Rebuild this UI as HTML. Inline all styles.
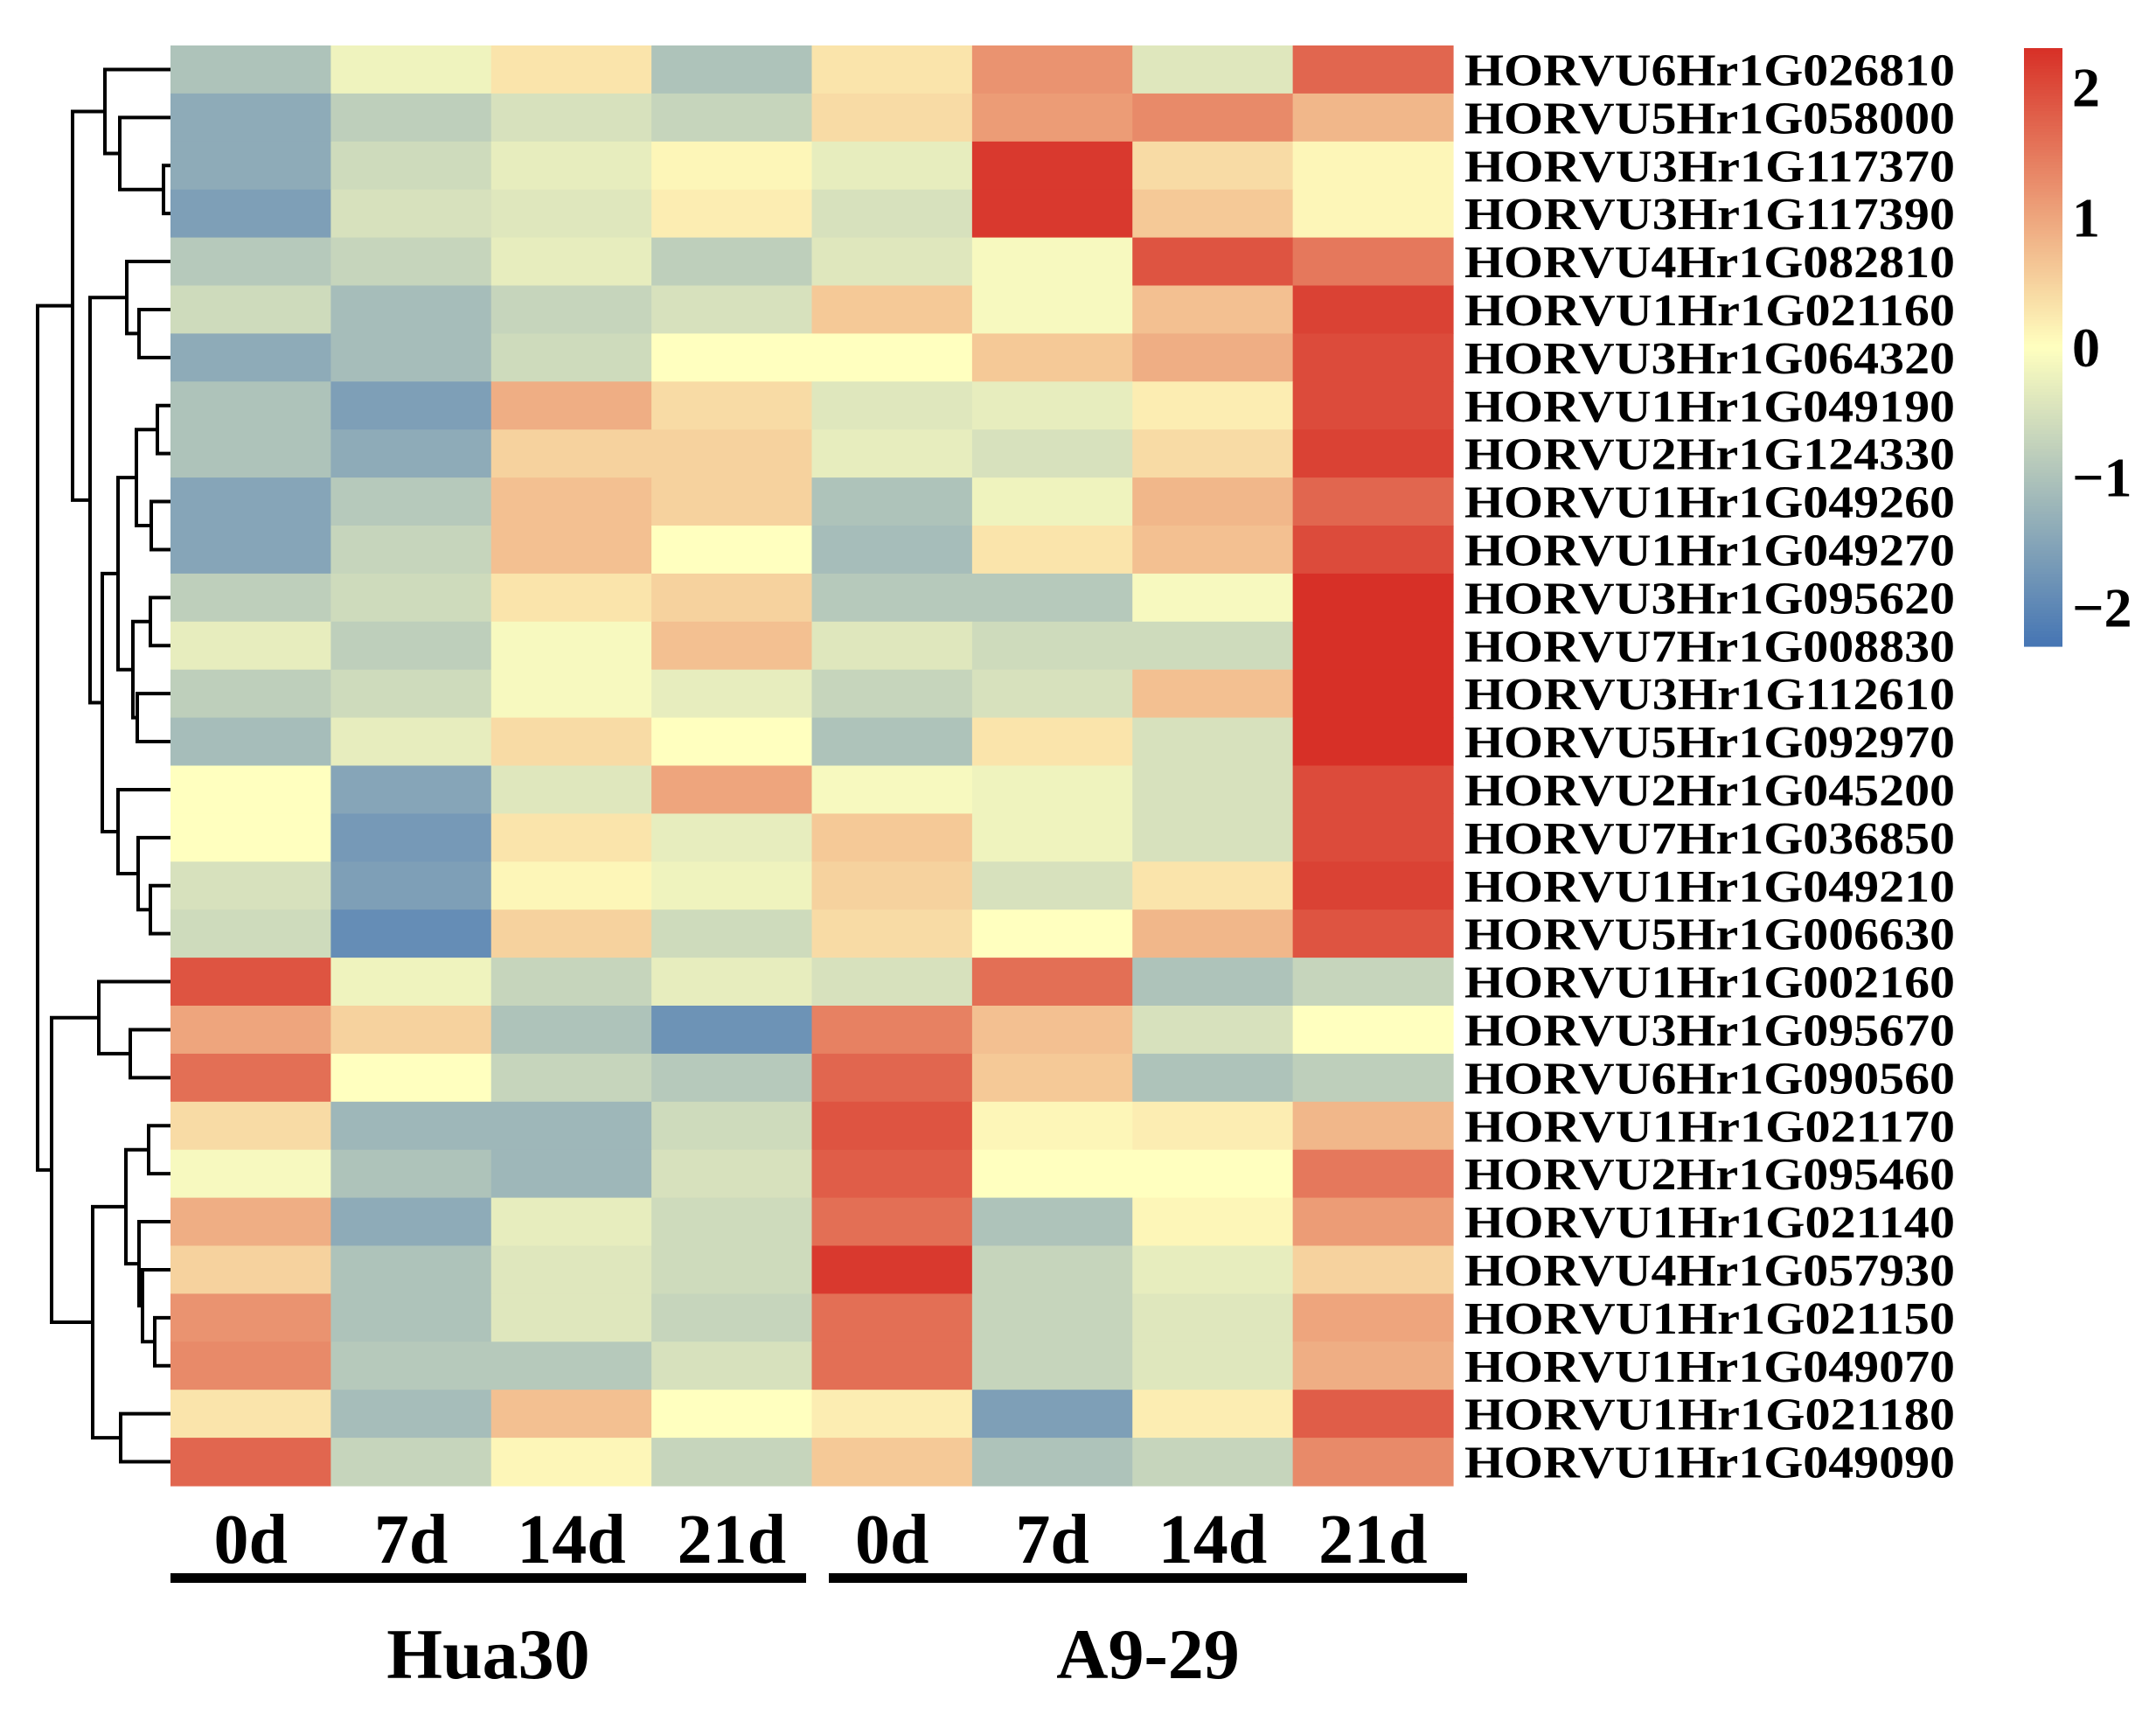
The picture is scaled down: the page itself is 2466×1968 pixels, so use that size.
<!DOCTYPE html>
<html><head><meta charset="utf-8">
<style>
html,body{margin:0;padding:0;background:#fff;}
svg{display:block;}
text{font-family:"Liberation Serif",serif;font-weight:bold;fill:#000;}
</style></head>
<body>
<svg id="chart" width="2466" height="1968" viewBox="0 0 2466 1968" xmlns="http://www.w3.org/2000/svg">
<g id="dendro"></g>
<g id="cells"></g>
<g id="rowlabels"></g>
<g id="collabels"></g>
<g id="legend"></g>
</svg>
<script>
const genes = ["HORVU6Hr1G026810","HORVU5Hr1G058000","HORVU3Hr1G117370","HORVU3Hr1G117390","HORVU4Hr1G082810","HORVU1Hr1G021160","HORVU3Hr1G064320","HORVU1Hr1G049190","HORVU2Hr1G124330","HORVU1Hr1G049260","HORVU1Hr1G049270","HORVU3Hr1G095620","HORVU7Hr1G008830","HORVU3Hr1G112610","HORVU5Hr1G092970","HORVU2Hr1G045200","HORVU7Hr1G036850","HORVU1Hr1G049210","HORVU5Hr1G006630","HORVU1Hr1G002160","HORVU3Hr1G095670","HORVU6Hr1G090560","HORVU1Hr1G021170","HORVU2Hr1G095460","HORVU1Hr1G021140","HORVU4Hr1G057930","HORVU1Hr1G021150","HORVU1Hr1G049070","HORVU1Hr1G021180","HORVU1Hr1G049090"];
const timepoints = ["0d","7d","14d","21d","0d","7d","14d","21d"];
const groups = ["Hua30","A9-29"];
const legendTicks = [2,1,0,-1,-2];
const values = [
[-1.0,-0.2,0.3,-1.0,0.3,1.2,-0.4,1.7],
[-1.4,-0.8,-0.5,-0.7,0.4,1.1,1.3,0.8],
[-1.4,-0.6,-0.3,0.1,-0.3,2.2,0.4,0.1],
[-1.6,-0.5,-0.4,0.2,-0.5,2.2,0.6,0.1],
[-0.9,-0.7,-0.3,-0.8,-0.4,-0.1,1.9,1.5],
[-0.6,-1.1,-0.7,-0.5,0.6,-0.1,0.7,2.1],
[-1.4,-1.1,-0.6,0.0,0.0,0.6,0.9,2.0],
[-1.0,-1.6,0.9,0.4,-0.4,-0.3,0.2,2.0],
[-1.0,-1.4,0.5,0.5,-0.3,-0.5,0.4,2.1],
[-1.5,-0.9,0.7,0.5,-1.0,-0.2,0.8,1.7],
[-1.5,-0.7,0.7,0.0,-1.1,0.3,0.7,2.0],
[-0.8,-0.6,0.3,0.5,-0.9,-0.9,-0.1,2.3],
[-0.3,-0.8,-0.1,0.7,-0.4,-0.6,-0.6,2.3],
[-0.8,-0.6,-0.1,-0.3,-0.7,-0.5,0.7,2.3],
[-1.1,-0.3,0.4,0.0,-1.0,0.3,-0.5,2.3],
[0.0,-1.5,-0.4,1.0,-0.1,-0.2,-0.5,2.0],
[0.0,-1.7,0.3,-0.3,0.6,-0.2,-0.5,2.0],
[-0.5,-1.6,0.1,-0.2,0.5,-0.5,0.3,2.1],
[-0.6,-1.9,0.5,-0.6,0.4,0.0,0.8,1.9],
[1.9,-0.2,-0.7,-0.3,-0.5,1.6,-1.0,-0.7],
[1.0,0.5,-1.0,-1.8,1.4,0.7,-0.5,0.0],
[1.6,0.0,-0.7,-0.9,1.7,0.6,-1.0,-0.8],
[0.4,-1.2,-1.2,-0.6,1.9,0.1,0.2,0.8],
[-0.1,-1.0,-1.2,-0.5,1.8,0.0,0.0,1.5],
[0.9,-1.4,-0.3,-0.6,1.6,-1.0,0.1,1.1],
[0.5,-1.0,-0.4,-0.6,2.2,-0.7,-0.3,0.5],
[1.2,-1.0,-0.4,-0.7,1.6,-0.7,-0.4,1.0],
[1.3,-0.9,-0.9,-0.5,1.6,-0.7,-0.4,0.9],
[0.3,-1.1,0.7,0.0,0.2,-1.6,0.2,1.8],
[1.7,-0.7,0.1,-0.7,0.6,-1.0,-0.7,1.3]
];
const merges = [
[2,3,187],[1,"n0",137],[0,"n1",120],[5,6,159],[4,"n3",145],
[7,8,180],[9,10,173],["n5","n6",156],[11,12,172],[13,14,157],["n8","n9",152],["n7","n10",135],
[17,18,172],[16,"n12",158],[15,"n13",135],["n11","n14",117],["n4","n15",103],["n2","n16",83],
[20,21,149],[19,"n18",113],[22,23,170],[26,27,177],[25,"n21",163],[24,"n22",159],["n20","n23",144],
[28,29,138],["n24","n25",106],["n19","n26",59],["n17","n27",43]
];

const NS="http://www.w3.org/2000/svg";
const X0=195,X1=1662,Y0=52,Y1=1699;
const nR=genes.length,nC=timepoints.length;
const cw=(X1-X0)/nC,rh=(Y1-Y0)/nR;
const xPos=c=>X0+c*cw, yPos=r=>Y0+r*rh;
const VMIN=-2.3,VMAX=2.3;
function lerp(a,b,t){return a.map((v,i)=>Math.round(v+(b[i]-v)*t));}
const cB=[69,117,180],cM=[255,255,191],cR=[215,48,39];
function color(v){
  v=Math.max(VMIN,Math.min(VMAX,v));
  const c=v<0?lerp(cM,cB,v/VMIN):lerp(cM,cR,v/VMAX);
  return `rgb(${c[0]},${c[1]},${c[2]})`;
}
function mk(tag,attrs,parent){const e=document.createElementNS(NS,tag);for(const k in attrs)e.setAttribute(k,attrs[k]);parent.appendChild(e);return e;}

const cells=document.getElementById('cells');
values.forEach((row,r)=>row.forEach((v,c)=>{
  const e=mk('rect',{x:xPos(c),y:yPos(r),width:cw+0.6,height:rh+0.6,fill:color(v)},cells);
  
  
}));

const rl=document.getElementById('rowlabels');
genes.forEach((g,r)=>{
  const t=mk('text',{x:1675,y:yPos(r)+rh/2+18,'font-size':52,textLength:561,lengthAdjust:'spacingAndGlyphs'},rl);
  t.textContent=g;
  
  
});

const cl=document.getElementById('collabels');
timepoints.forEach((tp,c)=>{
  const t=mk('text',{x:xPos(c)+cw/2,y:1787,'font-size':80,'text-anchor':'middle'},cl);
  t.textContent=tp;
  
  
});
const barX=[[195,922],[948,1678]];
groups.forEach((g,i)=>{
  const b=mk('rect',{x:barX[i][0],y:1799,width:barX[i][1]-barX[i][0],height:11,fill:'#000'},cl);
  
  
  const t=mk('text',{x:(barX[i][0]+barX[i][1])/2,y:1919,'font-size':82,'text-anchor':'middle'},cl);
  t.textContent=g;
  
  
});

const lg=document.getElementById('legend');
const LY0=55,LY1=739,LX=2315,LW=44;
const ly=v=>LY0+(VMAX-v)/(VMAX-VMIN)*(LY1-LY0);
for(let i=0;i<200;i++){
  const v=VMAX-(i+0.5)*(VMAX-VMIN)/200;
  mk('rect',{x:LX,y:LY0+i*(LY1-LY0)/200,width:LW,height:(LY1-LY0)/200+0.6,fill:color(v)},lg);
}
legendTicks.forEach(v=>{
  const t=mk('text',{x:2370,y:ly(v)+22,'font-size':64},lg);
  t.textContent=v<0?'\u2212'+Math.abs(v):String(v);
  
  
});

const dg=document.getElementById('dendro');
const nodeY={},nodeX={};
function getY(k){return typeof k==='number'?yPos(k)+rh/2:nodeY[k];}
function getX(k){return typeof k==='number'?X0:nodeX[k];}
merges.forEach((m,i)=>{
  const [a,b,h]=m;
  const ya=getY(a),yb=getY(b),xa=getX(a),xb=getX(b);
  const p=mk('path',{d:`M${xa},${ya}H${h}V${yb}H${xb}`,fill:'none',stroke:'#000','stroke-width':4},dg);
  
  
  nodeY['n'+i]=(ya+yb)/2;nodeX['n'+i]=h;
});
</script>
</body></html>
